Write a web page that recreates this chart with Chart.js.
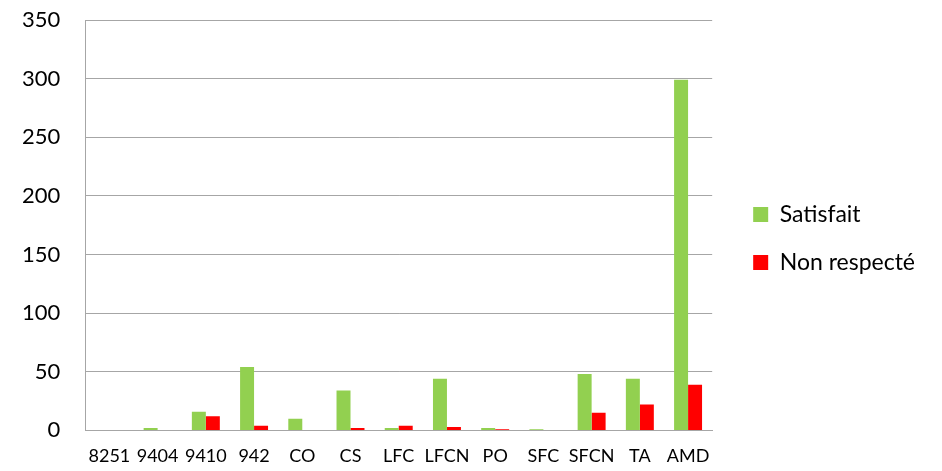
<!DOCTYPE html>
<html>
<head>
<meta charset="utf-8">
<script src="https://cdn.jsdelivr.net/npm/chart.js@4"></script>
<style>
  html, body { margin: 0; padding: 0; background: #fff; }
  #wrap { width: 942px; height: 471px; }
</style>
</head>
<body>
<div id="wrap"><canvas id="canvas"></canvas></div>
<script>
var categories = ["8251", "9404", "9410", "942", "CO", "CS", "LFC", "LFCN", "PO", "SFC", "SFCN", "TA", "AMD"];
var satisfait = [0, 2, 16, 54, 10, 34, 2, 44, 2, 1, 48, 44, 299];
var nonRespecte = [0, 0, 12, 4, 0, 2, 4, 3, 1, 0, 15, 22, 39];
var seriesNames = ["Satisfait", "Non respecté"];
var yTicks = [0, 50, 100, 150, 200, 250, 300, 350];

var gridColor = '#a6a6a6';
var fontName = 'Lato, "Liberation Sans", sans-serif';

// nudge the legend a little to the right / up, like the original
var legendNudge = {
    id: 'legendNudge',
    afterLayout: function(chart) {
        var lg = chart.legend;
        lg.left += 16; lg.right += 16;
        lg.top -= 7; lg.bottom -= 7;
    }
};

var config = {
    type: 'bar',
    data: {
        labels: categories,
        datasets: [{
            label: seriesNames[0],
            data: satisfait,
            backgroundColor: '#92d050',
            categoryPercentage: 0.58,
            barPercentage: 1
        }, {
            label: seriesNames[1],
            data: nonRespecte,
            backgroundColor: '#ff0000',
            categoryPercentage: 0.58,
            barPercentage: 1
        }]
    },
    options: {
        responsive: true,
        maintainAspectRatio: false,
        animation: false,
        layout: { padding: { left: 0, top: 20, bottom: 0, right: 33 } },
        plugins: {
            tooltip: { enabled: false },
            legend: {
                position: 'right',
                labels: {
                    boxWidth: 15,
                    boxHeight: 15,
                    padding: 25,
                    color: '#000',
                    font: { family: fontName, size: 23 }
                }
            }
        },
        scales: {
            x: {
                afterFit: function(axis) {
                    axis.height -= 3;
                },
                grid: { display: false },
                border: { display: true, color: gridColor },
                ticks: {
                    color: '#000',
                    padding: 7,
                    maxRotation: 0,
                    autoSkip: false,
                    font: { family: fontName, size: 18 }
                }
            },
            y: {
                min: 0,
                max: 350,
                afterBuildTicks: function(axis) {
                    axis.ticks = yTicks.map(function(v) { return { value: v }; });
                },
                // tick padding is only wanted horizontally
                afterFit: function(axis) {
                    axis.paddingTop = 0;
                    axis.paddingBottom = 0;
                    axis.width -= 3;
                },
                grid: { color: gridColor, drawTicks: false },
                border: { display: true, color: gridColor },
                ticks: {
                    color: '#000',
                    padding: 25,
                    font: { family: fontName, size: 22 }
                }
            }
        }
    },
    plugins: [legendNudge]
};

window.onload = function() {
    window.myBar = new Chart(document.getElementById("canvas"), config);
};
</script>
</body>
</html>
